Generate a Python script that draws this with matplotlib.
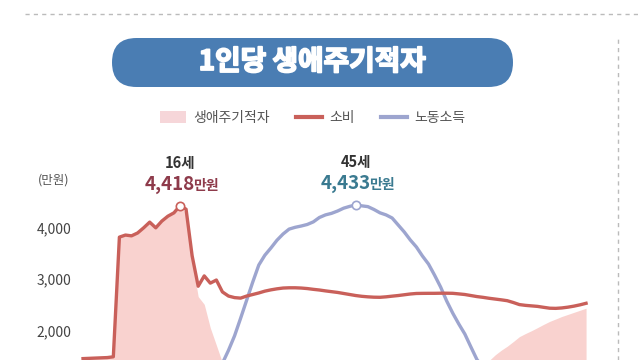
import numpy as np
import matplotlib.pyplot as plt
import matplotlib.patheffects as pe
from matplotlib.patches import FancyBboxPatch, Patch
from matplotlib.lines import Line2D
from matplotlib.transforms import IdentityTransform

plt.rcParams['font.family'] = ['Noto Sans CJK KR', 'DejaVu Sans']

ages = np.arange(0, 84)
# 소비 (만원)
consumption = [1460, 1465, 1470, 1475, 1480, 1495, 3810, 3850, 3835, 3890,
               3990, 4100, 3990, 4120, 4215, 4280, 4418, 4350, 3450, 2860,
               3060, 2920, 2980, 2750, 2670, 2640, 2630, 2670, 2700, 2730,
               2765, 2790, 2810, 2825, 2830, 2830, 2825, 2815, 2800, 2787,
               2770, 2755, 2740, 2720, 2700, 2680, 2665, 2655, 2648, 2646,
               2655, 2668, 2680, 2695, 2710, 2720, 2722, 2723, 2723, 2725,
               2725, 2723, 2712, 2700, 2680, 2660, 2645, 2627, 2612, 2597,
               2580, 2545, 2505, 2490, 2480, 2470, 2452, 2435, 2432, 2440,
               2455, 2475, 2500, 2530]
# 노동소득 (만원)
labor = [0, 0, 0, 0, 0, 0, 0, 0, 0, 0,
         0, 0, 0, 0, 0, 10, 30, 60, 100, 200,
         550, 865, 1260, 1370, 1620, 1900, 2240, 2590, 2940, 3270,
         3460, 3600, 3750, 3870, 3965, 4000, 4025, 4055, 4105, 4190,
         4240, 4270, 4315, 4370, 4405, 4433, 4415, 4400, 4345, 4280,
         4240, 4180, 4045, 3910, 3755, 3620, 3445, 3290, 3075, 2845,
         2575, 2340, 2130, 1935, 1685, 1440, 1290, 1205, 1080, 975,
         880, 755, 620, 545, 480, 410, 330, 255, 205, 165,
         140, 120, 105, 95]
yticks = [2000, 3000, 4000]
ytick_labels = ['2,000', '3,000', '4,000']
peak_c = (16, 4418)
peak_l = (45, 4433)

consumption = np.array(consumption)
labor = np.array(labor)
deficit = np.maximum(consumption - labor, 0)

red = '#c9605a'
blue = '#9da5cf'
pink = '#f9d2cf'

fig = plt.figure(figsize=(6.4, 3.6), dpi=100)
ax = fig.add_axes([80 / 640, 0, 520 / 640, 220 / 360])
ax.set_xlim(-0.5, 85.3)
ax.set_ylim(1433, 5689)

ax.fill_between(ages, 0, deficit, color=pink, lw=0, zorder=1)
ax.plot(ages, consumption, color=red, lw=2.4, zorder=3, solid_joinstyle='round')
ax.plot(ages, labor, color=blue, lw=2.4, zorder=2, solid_joinstyle='round')
ax.plot(*peak_c, 'o', ms=6, mfc='white', mec=red, mew=1.2, zorder=4)
ax.plot(*peak_l, 'o', ms=6, mfc='white', mec=blue, mew=1.2, zorder=4)

for px, py, numcol in [(peak_c[0], peak_c[1], '#8e3b4b'), (peak_l[0], peak_l[1], '#3a7a90')]:
    ax.annotate(f'{px}세', (px, py), xytext=(0, 43), textcoords='offset pixels',
                ha='center', va='center', fontsize=10.5, fontweight='bold', color='#333333')
    ax.annotate(f'{py:,}', (px, py), xytext=(15, 21), textcoords='offset pixels',
                ha='right', va='center', fontsize=13.5, fontweight='bold', color=numcol)
    ax.annotate('만원', (px, py), xytext=(13, 20), textcoords='offset pixels',
                ha='left', va='center', fontsize=10, fontweight='bold', color=numcol)

ax.set_yticks(yticks)
ax.set_yticklabels(ytick_labels)
ax.set_xticks([])
ax.tick_params(axis='y', length=0, pad=6, labelsize=10, labelcolor='#444444')
for s in ax.spines.values():
    s.set_visible(False)

fig.text(53.5 / 640, 1 - 180 / 360, '(만원)', ha='center', va='center',
         fontsize=9, color='#555555')

# title pill
pill = FancyBboxPatch((112, 360 - 87), 401, 49,
                      boxstyle='round,pad=0,rounding_size=24.5',
                      transform=IdentityTransform(), facecolor='#4a7db3',
                      edgecolor='none')
fig.add_artist(pill)
fig.text(312 / 640, 1 - 62 / 360, '1인당 생애주기적자', ha='center', va='center',
         fontsize=20, fontweight='heavy', color='white',
         path_effects=[pe.withStroke(linewidth=1.3, foreground='white')])

# dashed frame lines
fig.add_artist(Line2D([25 / 640, 1], [1 - 13.5 / 360] * 2, color='#bbbbbb',
                      lw=1, ls=(0, (3, 3))))
fig.add_artist(Line2D([618 / 640] * 2, [0, 1 - 38 / 360], color='#bbbbbb',
                      lw=1, ls=(0, (3, 3))))

handles = [Patch(facecolor='#f6d6d9', edgecolor='none'),
           Line2D([], [], color=red, lw=3),
           Line2D([], [], color=blue, lw=3)]
leg = fig.legend(handles, ['생애주기적자', '소비', '노동소득'], ncol=3, frameon=False,
                 loc='center', bbox_to_anchor=(312.5 / 640, 1 - 118 / 360),
                 fontsize=10, handlelength=1.9, handleheight=1.0,
                 handletextpad=0.5, columnspacing=1.9)
for t in leg.get_texts():
    t.set_color('#555555')

fig.savefig('out.png', dpi=100)
